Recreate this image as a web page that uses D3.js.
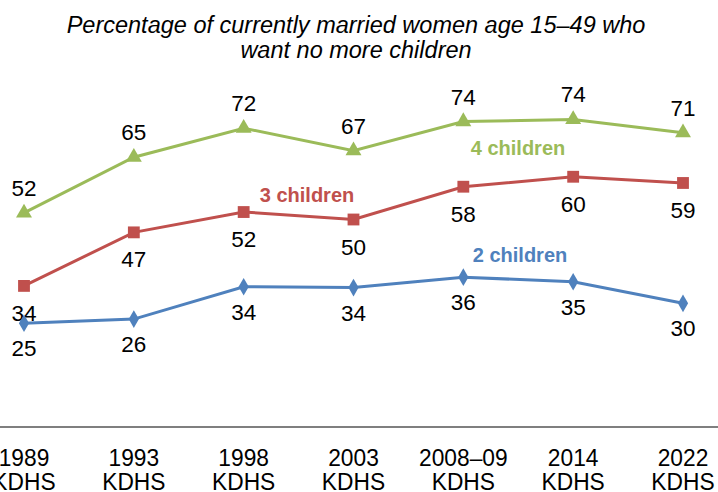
<!DOCTYPE html>
<html>
<head>
<meta charset="utf-8">
<script src="https://cdn.jsdelivr.net/npm/d3@7"></script>
<style>
  body { margin: 0; background: #fff; }
  svg { display: block; font-family: "Liberation Sans", Arial, sans-serif; }
</style>
</head>
<body>
<div id="wrapper"></div>
<script>
const surveys = ["1989", "1993", "1998", "2003", "2008–09", "2014", "2022"];
const fourChildren = [51.6, 65, 72, 66.6, 73.6, 74.1, 70.9];
const threeChildren = [34, 46.9, 51.8, 50, 57.9, 60.3, 58.8];
const twoChildren = [25, 26, 33.8, 33.6, 36.1, 35, 29.8];
const seriesNames = ["4 children", "3 children", "2 children"];

const dimension = {
    width: 718,
    height: 492,
    margin: { top: 12, left: 24, bottom: 65, right: 35 }
};

const svg = d3.select("#wrapper").append("svg")
    .attr("width", dimension.width)
    .attr("height", dimension.height);

const xScaler = d3.scalePoint()
    .domain(surveys)
    .range([dimension.margin.left, dimension.width - dimension.margin.right]);
const yScaler = d3.scaleLinear()
    .domain([0, 100])
    .range([dimension.height - dimension.margin.bottom, dimension.height - dimension.margin.bottom - 415]);

// title
svg.append("text")
    .attr("text-anchor", "middle")
    .style("font-style", "italic").style("font-size", "23.5px")
    .selectAll("tspan")
    .data(["Percentage of currently married women age 15–49 who", "want no more children"])
    .join("tspan")
    .attr("x", 356)
    .attr("y", (d, i) => i ? 58 : 33)
    .text(d => d);

// x axis
const xAxis = svg.append("g")
    .attr("transform", `translate(0,${yScaler(0)})`);
xAxis.append("line")
    .attr("x1", 0).attr("x2", dimension.width)
    .attr("stroke", "#555").attr("stroke-width", 1.5);
const tick = xAxis.selectAll("text.tick")
    .data(surveys)
    .join("text")
    .attr("class", "tick")
    .attr("text-anchor", "middle")
    .style("font-size", "24.5px")
    .attr("transform", d => `translate(${xScaler(d)},0) scale(0.93,1)`);
tick.append("tspan").attr("x", 0).attr("y", 39).text(d => d);
tick.append("tspan").attr("x", 0).attr("y", 63).text("KDHS");

const series = [
    { name: seriesNames[0], values: fourChildren, color: "#9BBB59", symbol: d3.symbolTriangle, size: 110, labelDy: -17,
      nameX: 518, nameY: 155 },
    { name: seriesNames[1], values: threeChildren, color: "#C0504D", symbol: d3.symbolSquare, size: 140, labelDy: 35,
      nameX: 307, nameY: 202 },
    { name: seriesNames[2], values: twoChildren, color: "#4F81BD", symbol: d3.symbolDiamond, size: 90, labelDy: 33,
      nameX: 520, nameY: 262 }
];

const line = d3.line()
    .x((d, i) => xScaler(surveys[i]))
    .y(d => yScaler(d));

series.forEach(s => {
    const g = svg.append("g");
    g.append("path")
        .datum(s.values)
        .attr("fill", "none")
        .attr("stroke", s.color)
        .attr("stroke-width", 3)
        .attr("d", line);
    g.selectAll("path.marker")
        .data(s.values)
        .join("path")
        .attr("class", "marker")
        .attr("fill", s.color)
        .attr("transform", (d, i) => `translate(${xScaler(surveys[i])},${yScaler(d)})`)
        .attr("d", d3.symbol().type(s.symbol).size(s.size));
    g.selectAll("text.value")
        .data(s.values)
        .join("text")
        .attr("class", "value")
        .attr("text-anchor", "middle")
        .style("font-size", "22.5px")
        .attr("x", (d, i) => xScaler(surveys[i]))
        .attr("y", d => yScaler(d) + s.labelDy)
        .text(d => Math.round(d));
    g.append("text")
        .attr("x", s.nameX).attr("y", s.nameY)
        .attr("text-anchor", "middle")
        .attr("fill", s.color)
        .style("font-weight", "bold").style("font-size", "20px")
        .text(s.name);
});
</script>
</body>
</html>
